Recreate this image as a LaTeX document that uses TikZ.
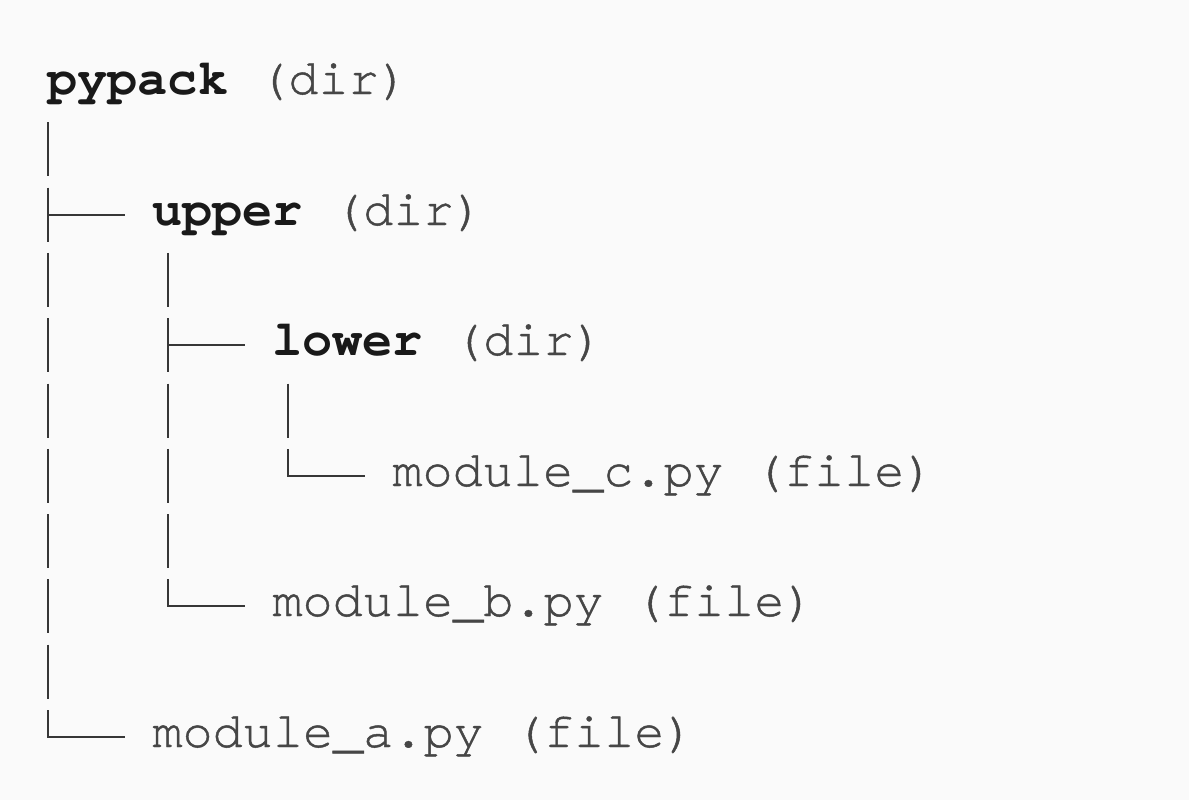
\documentclass[tikz,border=0pt]{standalone}
\usepackage{fontspec}
\setmonofont{texgyrecursor}[Extension=.otf, UprightFont=*-regular, BoldFont=*-bold,
  Ligatures=NoCommon, UprightFeatures={FakeBold=0.9}]
\definecolor{paper}{RGB}{250,250,250}
\definecolor{ink}{RGB}{25,25,25}
\definecolor{soft}{RGB}{70,70,70}
\definecolor{rule}{RGB}{55,55,55}
\begin{document}
\begin{tikzpicture}[x=0.5pt, y=-0.5pt,
    entry/.style={anchor=base west, inner sep=0pt, text=soft, font=\fontsize{25.1}{29}\selectfont\ttfamily},
    bar/.style={draw=rule, line width=1.4pt}]
  \fill[paper] (0,0) rectangle (1189,800);
  \node[entry] (pypack) at (47,94) {\textbf{\color{ink}pypack} (dir)};
  \node[entry] (upper) at (152,225) {\textbf{\color{ink}upper} (dir)};
  \node[entry] (lower) at (272,355) {\textbf{\color{ink}lower} (dir)};
  \node[entry] (modc) at (392,486) {module\_c.py (file)};
  \node[entry] (modb) at (272,616) {module\_b.py (file)};
  \node[entry] (moda) at (152,747) {module\_a.py (file)};
  \foreach \r in {1,...,9}
    \draw[bar] (48,{84+65.3*\r-27}) -- ++(0,54);
  \foreach \r in {3,...,7}
    \draw[bar] (168,{84+65.3*\r-27}) -- ++(0,54);
  \draw[bar] (288,{84+65.3*5-27}) -- ++(0,54);
  \draw[bar] (48,{215}) -- ([shift={(-27,-10)}]upper.base west);
  \draw[bar] (168,{345}) -- ([shift={(-27,-10)}]lower.base west);
  \draw[bar] (288,{476-27}) -- (288,476) -- ([shift={(-27,-10)}]modc.base west);
  \draw[bar] (168,{606-27}) -- (168,606) -- ([shift={(-27,-10)}]modb.base west);
  \draw[bar] (48,{737-27}) -- (48,737) -- ([shift={(-27,-10)}]moda.base west);
  \useasboundingbox (0,0) rectangle (1189,800);
\end{tikzpicture}
\end{document}
